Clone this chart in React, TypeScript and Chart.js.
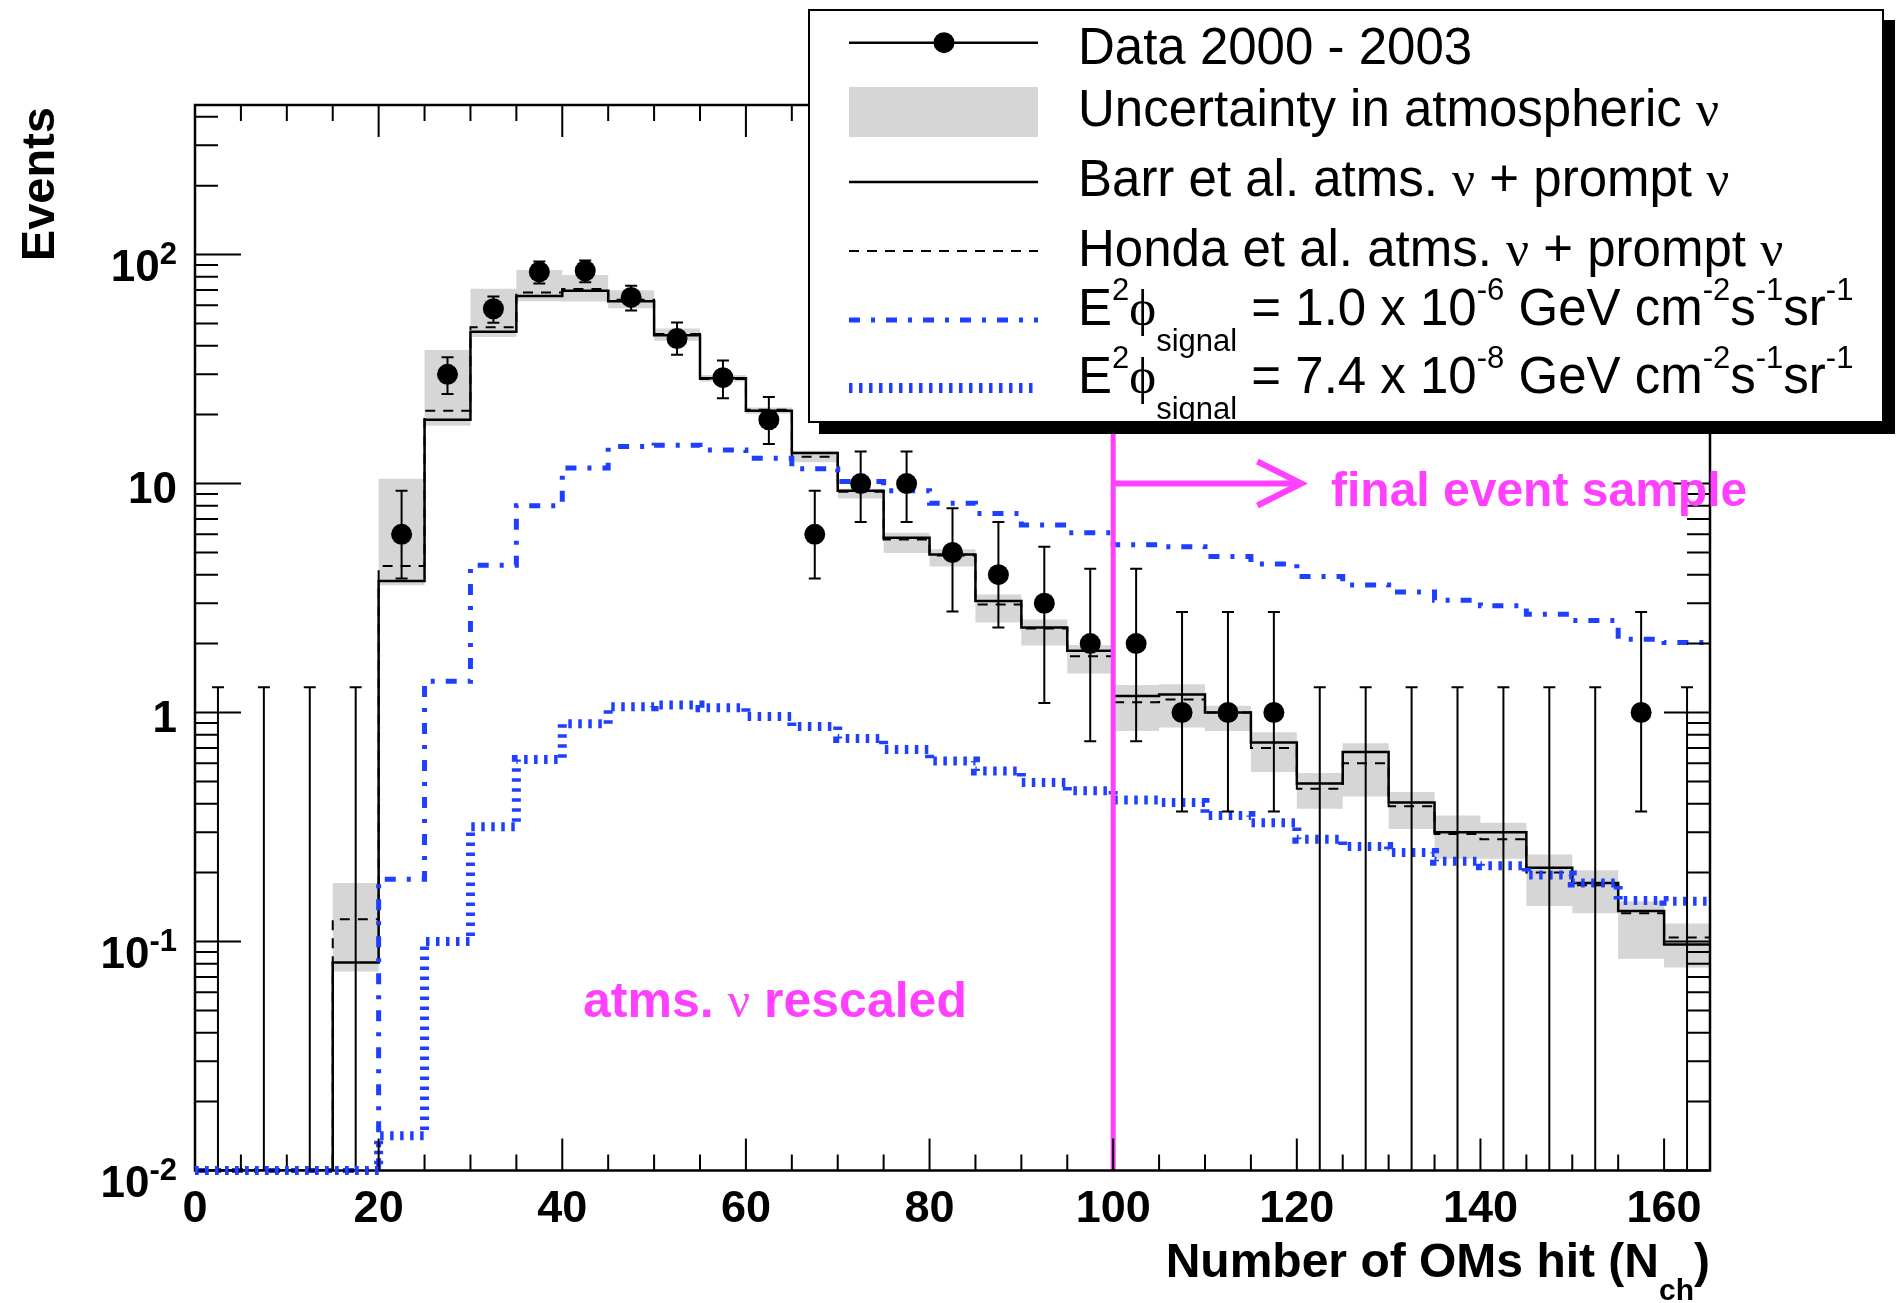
import React, { useEffect, useRef, useState } from 'react';
import { Chart, registerables } from 'chart.js';

Chart.register(...registerables);

const W = 1897;
const H = 1303;
const FONT = '"Liberation Sans", Arial, Helvetica, sans-serif';
const SERIF = '"Liberation Serif", "Times New Roman", serif';
const BLUE = '#1f3fff';
const MAGENTA = '#ff40ff';
const BAND = '#d6d6d6';

// ---- data (bins of width 5 in N_ch) ----
const binLowEdges = [0, 5, 10, 15, 20, 25, 30, 35, 40, 45, 50, 55, 60, 65, 70, 75, 80, 85, 90, 95, 100, 105, 110, 115, 120, 125, 130, 135, 140, 145, 150, 155, 160];
const binWidth = 5;
const xMin = 0;
const xMax = 165;
const yMin = 0.01;
const yMax = 450;

const dataCounts = [0, 0, 0, 0, 6, 30, 58, 84, 85, 65, 43, 29, 19, 6, 10, 10, 5, 4, 3, 2, 2, 1, 1, 1, 0, 0, 0, 0, 0, 0, 0, 1, 0];
const dataErrLow = [0, 0, 0, 0, 3.85, 24.6, 50.4, 74.8, 75.8, 57, 36.5, 23.6, 14.9, 3.85, 6.8, 6.8, 2.76, 2.35, 1.1, 0.75, 0.75, 0.37, 0.37, 0.37, 0, 0, 0, 0, 0, 0, 0, 0.37, 0];
const dataErrHigh = [1.29, 1.29, 1.29, 1.29, 9.3, 35.6, 65.6, 93.2, 94.2, 73, 50.5, 34.5, 23.9, 9.3, 13.8, 13.8, 7.8, 6.8, 5.3, 4.25, 4.25, 2.75, 2.75, 2.75, 1.29, 1.29, 1.29, 1.29, 1.29, 1.29, 1.29, 2.75, 1.29];

const barrPrompt = [0, 0, 0, 0.081, 3.75, 19.0, 46.0, 66.0, 69.5, 62.6, 44.4, 28.8, 20.8, 13.6, 9.3, 5.8, 4.9, 3.07, 2.35, 1.86, 1.18, 1.2, 1.0, 0.74, 0.49, 0.673, 0.405, 0.30, 0.30, 0.21, 0.18, 0.136, 0.097];
const hondaPrompt = [0, 0, 0, 0.125, 4.36, 20.8, 48.2, 68.3, 70.8, 63.5, 45.0, 28.6, 21.0, 13.1, 9.2, 5.7, 4.85, 2.96, 2.33, 1.76, 1.11, 1.14, 1.0, 0.70, 0.465, 0.60, 0.39, 0.295, 0.28, 0.20, 0.176, 0.133, 0.104];
const bandLow = [0, 0, 0, 0.074, 3.6, 17.9, 43.7, 62.6, 62.4, 58.3, 42.0, 27.9, 20.2, 12.4, 8.6, 4.97, 4.34, 2.47, 1.96, 1.48, 0.83, 0.86, 0.83, 0.55, 0.38, 0.43, 0.31, 0.23, 0.23, 0.143, 0.133, 0.084, 0.077];
const bandHigh = [0, 0, 0, 0.18, 10.5, 38.3, 71.0, 85.7, 81.5, 69.9, 47.5, 29.8, 21.5, 13.9, 9.5, 6.1, 5.17, 3.28, 2.55, 1.97, 1.32, 1.33, 1.07, 0.82, 0.545, 0.735, 0.45, 0.355, 0.33, 0.24, 0.205, 0.15, 0.12];
const signalHighFlux = [0, 0, 0, 0, 0.187, 1.37, 4.4, 8.0, 11.7, 14.5, 14.7, 14.0, 12.9, 11.6, 10.2, 9.3, 8.2, 7.4, 6.6, 6.1, 5.4, 5.3, 4.8, 4.45, 3.93, 3.61, 3.36, 3.09, 2.93, 2.69, 2.52, 2.09, 2.02];
const signalLowFlux = [0, 0, 0, 0, 0.0142, 0.10, 0.317, 0.623, 0.893, 1.06, 1.08, 1.05, 0.96, 0.87, 0.77, 0.69, 0.615, 0.555, 0.495, 0.455, 0.415, 0.405, 0.355, 0.33, 0.28, 0.26, 0.245, 0.224, 0.214, 0.195, 0.18, 0.151, 0.15];

const xTickValues = [0, 20, 40, 60, 80, 100, 120, 140, 160];
const xTickLabels = ['0', '20', '40', '60', '80', '100', '120', '140', '160'];
const yTickValues = [0.01, 0.1, 1, 10, 100];
const yTickBase = ['10', '10', '1', '10', '10'];
const yTickExponent = ['-2', '-1', '', '', '2'];

const cutValue = 100;
const arrowEnd = 120.5;
const arrowLevel = 10;

// values at or below the axis minimum are drawn on the axis (as ROOT does on log scales)
const stepPoints = (vals: number[]) =>
  binLowEdges
    .map((e, i) => ({ x: e, y: Math.max(vals[i], yMin) }))
    .concat([{ x: xMax, y: Math.max(vals[vals.length - 1], yMin) }]);

const overlayPlugin = {
  id: 'rootOverlay',
  afterDatasetsDraw(chart: any) {
    const { ctx, chartArea: a } = chart;
    const xs = chart.scales.x;
    const ys = chart.scales.y;
    ctx.save();
    ctx.beginPath();
    ctx.rect(a.left, a.top, a.right - a.left, a.bottom - a.top);
    ctx.clip();
    // error bars
    ctx.strokeStyle = '#000';
    ctx.lineWidth = 2;
    binLowEdges.forEach((e, i) => {
      const px = xs.getPixelForValue(e + binWidth / 2);
      const lo = ys.getPixelForValue(Math.max(dataErrLow[i], yMin));
      const hi = ys.getPixelForValue(dataErrHigh[i]);
      ctx.beginPath();
      ctx.moveTo(px, lo);
      ctx.lineTo(px, hi);
      ctx.moveTo(px - 6, hi);
      ctx.lineTo(px + 6, hi);
      if (dataErrLow[i] > 0) {
        ctx.moveTo(px - 6, lo);
        ctx.lineTo(px + 6, lo);
      }
      ctx.stroke();
    });
    // cut line and arrow
    const cx = xs.getPixelForValue(cutValue);
    ctx.strokeStyle = MAGENTA;
    ctx.lineWidth = 5;
    ctx.beginPath();
    ctx.moveTo(cx, a.bottom);
    ctx.lineTo(cx, a.top);
    ctx.stroke();
    const ay = ys.getPixelForValue(arrowLevel);
    const ax = xs.getPixelForValue(arrowEnd);
    ctx.lineWidth = 6;
    ctx.beginPath();
    ctx.moveTo(cx, ay);
    ctx.lineTo(ax - 3, ay);
    ctx.stroke();
    ctx.beginPath();
    ctx.moveTo(ax - 44, ay - 22);
    ctx.lineTo(ax, ay);
    ctx.lineTo(ax - 44, ay + 22);
    ctx.stroke();
    ctx.restore();

    // frame and ROOT-style inward ticks
    ctx.save();
    ctx.strokeStyle = '#000';
    ctx.lineWidth = 2;
    ctx.beginPath();
    for (let v = xs.min; v <= xs.max + 1e-9; v += 5) {
      const px = xs.getPixelForValue(v);
      const len = v % 20 === 0 ? 32 : 16;
      ctx.moveTo(px, a.bottom);
      ctx.lineTo(px, a.bottom - len);
      ctx.moveTo(px, a.top);
      ctx.lineTo(px, a.top + len);
    }
    const e0 = Math.floor(Math.log10(ys.min));
    const e1 = Math.ceil(Math.log10(ys.max));
    for (let e = e0; e <= e1; e++) {
      for (let m = 1; m <= 9; m++) {
        const v = m * Math.pow(10, e);
        if (v < ys.min * 0.999 || v > ys.max * 1.001) continue;
        const py = ys.getPixelForValue(v);
        const len = m === 1 ? 46 : 23;
        ctx.moveTo(a.left, py);
        ctx.lineTo(a.left + len, py);
        ctx.moveTo(a.right, py);
        ctx.lineTo(a.right - len, py);
      }
    }
    ctx.stroke();
    ctx.lineWidth = 2.5;
    ctx.strokeRect(a.left, a.top, a.right - a.left, a.bottom - a.top);
    ctx.restore();
  },
};

// signal curves lying on the axis minimum are drawn over the bottom frame line, as in the original
const signalOnAxisPlugin = {
  id: 'signalOnAxis',
  afterDraw(chart: any) {
    const { ctx, chartArea: a } = chart;
    const xs = chart.scales.x;
    const ys = chart.scales.y;
    ctx.save();
    ctx.strokeStyle = BLUE;
    ctx.lineWidth = 9;
    ctx.setLineDash([3.5, 6.5]);
    ctx.beginPath();
    let started = false;
    binLowEdges.forEach((e, i) => {
      if (signalLowFlux[i] <= yMin) {
        const x0 = xs.getPixelForValue(e);
        const x1 = xs.getPixelForValue(e + binWidth);
        const y = ys.getPixelForValue(yMin);
        if (!started) {
          ctx.moveTo(x0, y);
          started = true;
        }
        ctx.lineTo(x1, y);
      }
    });
    ctx.stroke();
    ctx.restore();
  },
};

const Sup = ({ children, size = 31, raise = 25 }: any) => (
  <span style={{ fontSize: size, position: 'relative', top: -raise, lineHeight: 0 }}>{children}</span>
);
const Sub = ({ children, drop = 26, bold = false, size = 31 }: any) => (
  <span style={{ fontSize: size, position: 'relative', top: drop, lineHeight: 0, fontWeight: bold ? 'bold' : 'normal' }}>{children}</span>
);
const Greek = ({ children }: any) => (
  <span style={{ fontFamily: SERIF, fontWeight: 'normal', lineHeight: 0 }}>{children}</span>
);

const Txt = ({ left, right, baseline, size, bold, color, children }: any) => (
  <div
    style={{
      position: 'absolute',
      left,
      right,
      top: baseline - size * 0.8465,
      fontFamily: FONT,
      fontSize: size,
      lineHeight: `${size}px`,
      fontWeight: bold ? 'bold' : 'normal',
      color: color || '#000',
      whiteSpace: 'pre',
      textAlign: right !== undefined ? 'right' : 'left',
    }}
  >
    {children}
  </div>
);

export default function App() {
  const canvasRef = useRef<HTMLCanvasElement | null>(null);
  const [yLabelPix, setYLabelPix] = useState<number[]>([]);

  useEffect(() => {
    if (!canvasRef.current) return;
    const stepLine = (vals: number[], extra: any) => ({
      type: 'line',
      data: stepPoints(vals),
      stepped: 'before',
      pointRadius: 0,
      fill: false,
      ...extra,
    });
    const chart = new Chart(canvasRef.current, {
      type: 'line',
      data: {
        datasets: [
          {
            label: 'Data 2000 - 2003',
            type: 'line',
            showLine: false,
            data: dataCounts.map((c, i) => ({ x: binLowEdges[i] + binWidth / 2, y: Math.max(c, yMin) })),
            pointRadius: dataCounts.map((c) => (c > 0 ? 10.5 : 0)),
            pointBackgroundColor: '#000',
            pointBorderColor: '#000',
            pointBorderWidth: 0,
            order: 0,
          },
          stepLine(signalLowFlux, { label: 'signal 7.4e-8', borderColor: BLUE, borderWidth: 9, borderDash: [3.5, 6.5], clip: 10, order: 1 }),
          stepLine(signalHighFlux, { label: 'signal 1.0e-6', borderColor: BLUE, borderWidth: 5, borderDash: [11, 11, 4, 11], clip: 10, order: 2 }),
          stepLine(hondaPrompt, { label: 'Honda', borderColor: '#000', borderWidth: 2, borderDash: [10, 8], order: 3 }),
          stepLine(barrPrompt, { label: 'Barr', borderColor: '#000', borderWidth: 2.5, order: 4 }),
          stepLine(bandHigh, { label: 'band high', borderColor: 'rgba(0,0,0,0)', borderWidth: 0, backgroundColor: BAND, fill: '+1', order: 5 }),
          stepLine(bandLow, { label: 'band low', borderColor: 'rgba(0,0,0,0)', borderWidth: 0, order: 6 }),
        ] as any,
      },
      options: {
        animation: false,
        responsive: false,
        events: [],
        layout: { padding: { left: 0, right: W - 1710, top: 105, bottom: 0 } },
        plugins: { legend: { display: false }, tooltip: { enabled: false } },
        scales: {
          x: {
            type: 'linear',
            position: 'bottom',
            min: xMin,
            max: xMax,
            grid: { display: false },
            border: { display: false },
            afterBuildTicks: (s: any) => {
              s.ticks = xTickValues.map((v) => ({ value: v }));
            },
            afterFit: (s: any) => {
              s.height = H - 1170.5;
            },
            ticks: {
              autoSkip: false,
              maxRotation: 0,
              minRotation: 0,
              padding: 4,
              color: '#000',
              font: { family: FONT, size: 45, weight: 'bold' },
              callback: (_v: any, i: number) => xTickLabels[i] ?? '',
            },
          },
          y: {
            type: 'logarithmic',
            min: yMin,
            max: yMax,
            grid: { display: false },
            border: { display: false },
            afterBuildTicks: (s: any) => {
              s.ticks = yTickValues.map((v) => ({ value: v }));
            },
            afterFit: (s: any) => {
              s.width = 195;
            },
            ticks: { display: false },
          },
        },
      } as any,
      plugins: [overlayPlugin, signalOnAxisPlugin],
    });
    setYLabelPix(yTickValues.map((v) => chart.scales.y.getPixelForValue(v)));
    return () => chart.destroy();
  }, []);

  return (
    <div style={{ position: 'fixed', left: 0, top: 0, width: W, height: H, background: '#fff', overflow: 'hidden' }}>
      <canvas ref={canvasRef} width={W} height={H} style={{ position: 'absolute', left: 0, top: 0, width: W, height: H }} />

      {/* y tick labels, placed from the chart's log scale */}
      {yLabelPix.map((py, i) => (
        <Txt key={i} right={W - 177} baseline={py + (yTickExponent[i] ? 27 : 20)} size={44} bold>
          {yTickBase[i]}
          {yTickExponent[i] ? <Sup size={31} raise={17}>{yTickExponent[i]}</Sup> : null}
        </Txt>
      ))}

      {/* legend box */}
      <div
        style={{
          position: 'absolute',
          left: 808,
          top: 9,
          width: 1076,
          height: 414,
          boxSizing: 'border-box',
          border: '2px solid #000',
          background: '#fff',
          boxShadow: '11px 11px 0 0 #000',
        }}
      />
      <svg width={W} height={H} style={{ position: 'absolute', left: 0, top: 0 }}>
        <line x1={849} y1={42.7} x2={1038} y2={42.7} stroke="#000" strokeWidth={2.5} />
        <circle cx={944} cy={42.7} r={10.5} fill="#000" />
        <rect x={849} y={87} width={189} height={50} fill={BAND} />
        <line x1={849} y1={182} x2={1038} y2={182} stroke="#000" strokeWidth={2.5} />
        <line x1={849} y1={251} x2={1038} y2={251} stroke="#000" strokeWidth={2} strokeDasharray="10 8" />
        <line x1={849} y1={320} x2={1038} y2={320} stroke={BLUE} strokeWidth={5} strokeDasharray="11 11 4 11" />
        <line x1={849} y1={388} x2={1036} y2={388} stroke={BLUE} strokeWidth={10} strokeDasharray="3.5 6.5" />
      </svg>

      <Txt left={1078} baseline={64} size={51}>Data 2000 - 2003</Txt>
      <Txt left={1078} baseline={126} size={51}>Uncertainty in atmospheric <Greek>ν</Greek></Txt>
      <Txt left={1078} baseline={196} size={51}>Barr et al. atms. <Greek>ν</Greek> + prompt <Greek>ν</Greek></Txt>
      <Txt left={1078} baseline={266} size={51}>Honda et al. atms. <Greek>ν</Greek> + prompt <Greek>ν</Greek></Txt>
      <Txt left={1078} baseline={325} size={51}>
        E<Sup>2</Sup><Greek>ϕ</Greek><Sub>signal</Sub> = 1.0 x 10<Sup>-6</Sup> GeV cm<Sup>-2</Sup>s<Sup>-1</Sup>sr<Sup>-1</Sup>
      </Txt>
      <Txt left={1078} baseline={393} size={51}>
        E<Sup>2</Sup><Greek>ϕ</Greek><Sub>signal</Sub> = 7.4 x 10<Sup>-8</Sup> GeV cm<Sup>-2</Sup>s<Sup>-1</Sup>sr<Sup>-1</Sup>
      </Txt>

      {/* annotations */}
      <Txt left={1331} baseline={507} size={48} bold color={MAGENTA}>final event sample</Txt>
      <Txt left={583} baseline={1017} size={50} bold color={MAGENTA}>atms. <Greek>ν</Greek> rescaled</Txt>

      {/* axis titles */}
      <Txt right={W - 1710} baseline={1278} size={48} bold>
        Number of OMs hit (N<Sub bold drop={23} size={30}>ch</Sub>)
      </Txt>
      <div
        style={{
          position: 'absolute',
          left: 14,
          top: 407,
          width: 300,
          fontFamily: FONT,
          fontSize: 47,
          lineHeight: '47px',
          fontWeight: 'bold',
          textAlign: 'right',
          whiteSpace: 'pre',
          transformOrigin: 'left top',
          transform: 'rotate(-90deg)',
        }}
      >
        Events
      </div>
    </div>
  );
}
